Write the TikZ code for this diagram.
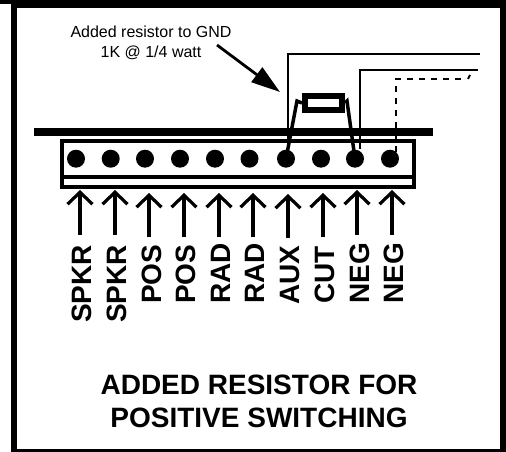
\documentclass[tikz,border=0pt]{standalone}
\usepackage{xcolor}
\usepackage{fontspec}
\setmainfont{Liberation Sans}
\usetikzlibrary{arrows.meta, positioning, calc}

\begin{document}
\begin{tikzpicture}[
    x=1pt, y=-1pt,
    pin/.style={circle, fill=black, inner sep=0pt, minimum size=18pt},
    pinlabel/.style={rotate=90, anchor=west, inner sep=0pt, font=\fontsize{28}{28}\selectfont\bfseries},
    pinarrow/.style={line width=3.2pt, -{Straight Barb[length=12pt,width=25pt]}},
    wire/.style={line width=2.4pt},
    lead/.style={line width=3.5pt},
]
    \useasboundingbox (0,0) rectangle (506,452);

    % Frame
    \fill (0,0) rectangle (11,4);
    \fill (11,0) rectangle (506,8.5);
    \fill (11,0) rectangle (17,452);
    \fill (17,449) rectangle (506,452);
    \fill (500,0) rectangle (506,452);

    % Note
    \node[align=center, font=\fontsize{16}{20}\selectfont] (note) at (151,42.5) {Added resistor to GND\\1K @ 1/4 watt};
    \coordinate (notefrom) at (217,45);
    \coordinate (noteto) at (280,92);
    \draw[line width=2.8pt, -{Triangle[length=29pt,width=18pt]}] (notefrom) -- (noteto);

    % Terminal strip
    \fill (34,128) rectangle (433,136);
    \draw[line width=4pt] (62,140.5) rectangle (413.7,187);
    \draw[line width=4pt] (62,177) -- (413.7,177);

    % Pins and labels
    \foreach \idx/\px/\ax/\tip/\tail/\lbl/\lx/\ly in {
        1/76/80/190/235/SPKR/81.5/323,
        2/110.7/115/190/235/SPKR/116.5/323,
        3/145/149/193/237/POS/151.5/304,
        4/180/184/193/237/POS/186/304,
        5/215/219/193/237/RAD/220.5/304,
        6/249.5/253/193/237/RAD/255/304,
        7/286/288/194/238/AUX/290/305,
        8/321/323/193/237/CUT/325/304,
        9/355/357/190/235/NEG/359.5/304,
        10/390/392/190/235/NEG/394/304}
    {
        \node[pin] (pin\idx) at (\px,158.7) {};
        \node[pinlabel] (label\idx) at (\lx,\ly) {\lbl};
        \coordinate (tail\idx) at (\ax,\tail);
        \coordinate (tip\idx) at (\ax,\tip);
        \draw[pinarrow] (tail\idx) -- (tip\idx);
    }

    % Resistor
    \node[draw, line width=6pt, minimum width=37pt, minimum height=14pt, inner sep=0pt] (resistor) at (323.5,103) {};
    \draw[lead] (pin7.center) -- (297,101) -- (resistor.west);
    \draw[lead] (resistor.east) -- (347,101) -- (pin9.center);

    % Wires
    \coordinate (outerend) at (480,54);
    \coordinate (innerend) at (478,70);
    \draw[wire] (pin7.center) ++(2,-10) |- (outerend);
    \draw[wire] (pin9.center) ++(5,-10) |- (innerend);
    \draw[line width=2pt, dash pattern=on 6pt off 6pt] (396,152) -- (396,79) -- (463,79);
    \coordinate (tickfrom) at (468,79);
    \coordinate (tickto) at (470,75);
    \draw[line width=2pt] (tickfrom) -- (tickto);

    % Title
    \node[align=center, font=\fontsize{28}{33}\selectfont\bfseries] (title) at (259,401) {ADDED RESISTOR FOR\\POSITIVE SWITCHING};

\end{tikzpicture}
\end{document}
